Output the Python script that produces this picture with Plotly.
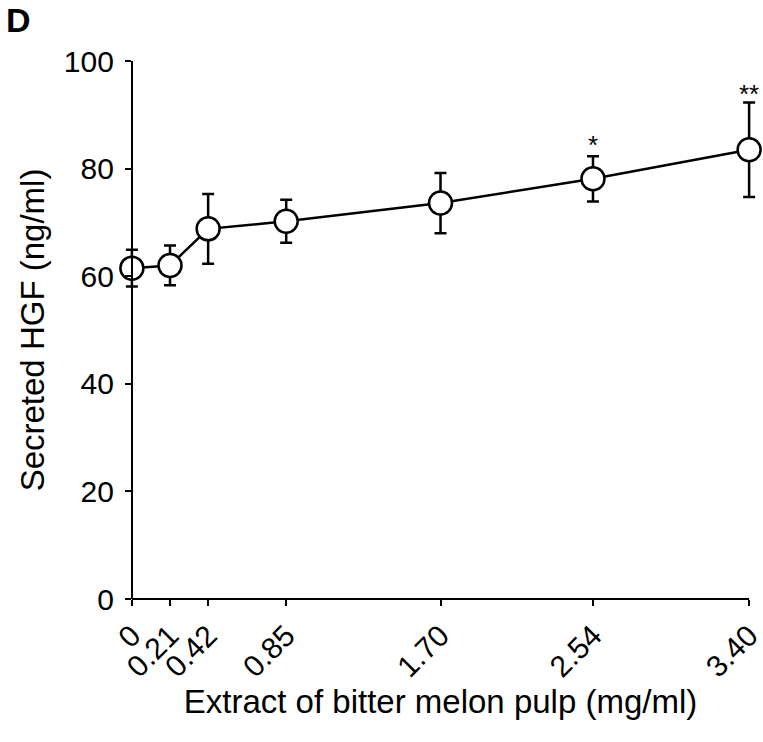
import plotly.graph_objects as go

conc = [0, 0.21, 0.42, 0.85, 1.70, 2.54, 3.40]
tick_labels = ["0", "0.21", "0.42", "0.85", "1.70", "2.54", "3.40"]
hgf = [61.5, 62.0, 68.8, 70.2, 73.6, 78.1, 83.5]
sd = [3.4, 3.7, 6.5, 4.0, 5.6, 4.2, 8.8]
sig_x = [2.54, 3.40]
sig_text = ["*", "**"]
sig_y = [83.9, 93.4]

FONT = "Liberation Sans, Arial, sans-serif"
X_RANGE = [-0.06, 3.46]
X_MAX = max(conc)

fig = go.Figure()
fig.add_trace(go.Scatter(
    x=conc, y=hgf, mode="lines+markers",
    line=dict(color="black", width=2.5),
    marker=dict(symbol="circle", size=23, color="white",
                line=dict(color="black", width=2.5)),
    error_y=dict(type="data", array=sd, visible=True, color="black",
                 thickness=2.5, width=6),
    cliponaxis=False, showlegend=False,
))
fig.add_trace(go.Scatter(
    x=sig_x, y=sig_y, mode="text", text=sig_text,
    textfont=dict(family=FONT, size=26, color="black"),
    cliponaxis=False, showlegend=False,
))

fig.update_layout(
    width=763, height=742,
    margin=dict(l=121, r=3, t=61, b=143),
    paper_bgcolor="white", plot_bgcolor="white",
    font=dict(family=FONT, color="black", size=30),
)
fig.add_annotation(text="<b>D</b>", xref="paper", yref="paper",
                   x=-117/639, y=1 + 41/538, xanchor="left", yanchor="middle",
                   showarrow=False, font=dict(size=34, family=FONT))
# x-axis baseline from 0 to the last concentration
fig.add_shape(type="line", xref="x", yref="paper", x0=0, x1=X_MAX, y0=0, y1=0,
              line=dict(color="black", width=2))

fig.update_xaxes(
    range=X_RANGE, tickmode="array", tickvals=conc, ticktext=tick_labels,
    tickangle=-45, ticks="outside", ticklen=6, tickwidth=2, tickcolor="black",
    showline=False, showgrid=False, zeroline=False, automargin=False,
    ticklabeloverflow="allow",
    tickfont=dict(size=30, family=FONT),
    title=dict(text="Extract of bitter melon pulp (mg/ml)", font=dict(size=33, family=FONT),
               standoff=4),
)
fig.update_yaxes(
    range=[0, 100], dtick=20, ticks="outside", ticklen=6, tickwidth=2, tickcolor="black",
    showline=True, linecolor="black", linewidth=2, showgrid=False, zeroline=False,
    anchor="free", position=(0 - X_RANGE[0]) / (X_RANGE[1] - X_RANGE[0]),
    automargin=False, ticklabelstandoff=5,
    tickfont=dict(size=30, family=FONT),
    title=dict(text="Secreted HGF (ng/ml)", font=dict(size=33, family=FONT), standoff=8),
)

fig.write_html("out.html")
